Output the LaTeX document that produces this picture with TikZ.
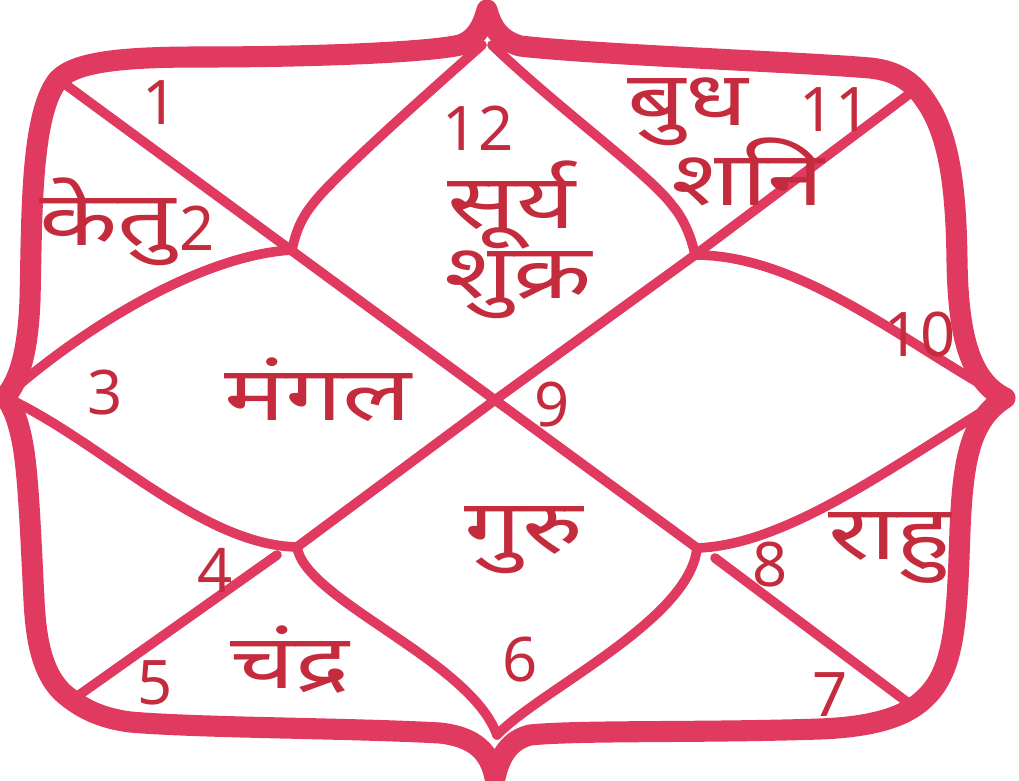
\documentclass[tikz,border=0pt]{standalone}
\usepackage{fontspec}
\setmainfont{Noto Sans}
\newfontfamily\deva[Script=Devanagari,FakeStretch=1.35]{Noto Sans}
\usepackage{tikz}
\definecolor{chartred}{RGB}{224,58,96}
\definecolor{inkred}{RGB}{196,44,62}
\tikzset{
  frame/.style={draw=chartred,line width=12pt,line join=round,line cap=round},
  house/.style={draw=chartred,line width=5.5pt,line join=round,line cap=round},
  num/.style={text=inkred,font=\fontsize{35}{37}\selectfont,inner sep=0pt},
  graha/.style={text=inkred,font=\deva\fontsize{43}{46}\selectfont,inner sep=0pt}
}
\begin{document}
\begin{tikzpicture}[x=0.02cm,y=-0.02cm]
        \useasboundingbox (0,0) rectangle (1019,781);
        \coordinate (T) at (487,10);
        \coordinate (L) at (5,397);
        \coordinate (R) at (1005,398);
        \coordinate (B) at (495,778);
        \coordinate (C) at (495,400);
        \coordinate (ul) at (292,250);
        \coordinate (ur) at (695,255);
        \coordinate (ll) at (297,547);
        \coordinate (lr) at (697,548);
        \coordinate (tl) at (58,79);
        \coordinate (tr) at (912,92);
        \coordinate (bl) at (72,700);
        \coordinate (br) at (915,708);
        \draw[frame] (L) .. controls (20,380) and (28,350) .. (30,300)
            .. controls (32,220) and (30,115) .. (58,80)
            .. controls (75,62) and (120,57) .. (200,57)
            .. controls (320,57) and (430,52) .. (460,45)
            .. controls (475,40) and (482,28) .. (T)
            .. controls (492,28) and (500,40) .. (520,46)
            .. controls (600,55) and (800,62) .. (870,68)
            .. controls (900,71) and (915,85) .. (925,100)
            .. controls (950,135) and (956,190) .. (957,260)
            .. controls (958,330) and (968,380) .. (R)
            .. controls (970,420) and (963,460) .. (960,530)
            .. controls (957,620) and (955,670) .. (925,698)
            .. controls (905,718) and (870,727) .. (820,729)
            .. controls (700,733) and (580,730) .. (530,735)
            .. controls (510,740) and (500,755) .. (B)
            .. controls (490,752) and (475,737) .. (440,733)
            .. controls (350,728) and (200,728) .. (130,722)
            .. controls (100,718) and (80,708) .. (62,692)
            .. controls (42,672) and (36,640) .. (34,600)
            .. controls (30,520) and (28,470) .. (22,440)
            .. controls (18,420) and (12,405) .. cycle;
        \draw[house] (482,45) .. controls (420,100) and (330,180) .. (312,205)
            .. controls (300,220) and (295,235) .. (ul)
            .. controls (200,255) and (80,330) .. (L);
        \draw[house] (L) .. controls (100,440) and (200,545) .. (ll)
            .. controls (305,600) and (470,660) .. (497,735);
        \draw[house] (497,735) .. controls (540,690) and (690,620) .. (lr)
            .. controls (790,545) and (900,460) .. (R);
        \draw[house] (R) .. controls (900,340) and (800,255) .. (ur)
            .. controls (692,240) and (685,220) .. (672,205)
            .. controls (650,175) and (560,110) .. (492,45);
        \draw[house] (tl) -- (C) -- (lr);
        \draw[house] (tr) -- (ur) -- (C) -- (ll);
        \draw[house] (277,555) -- (bl);
        \draw[house] (715,558) -- (br);
        \node[num] (h1) at (160,103) {1};
        \node[num] (h2) at (197,228) {2};
        \node[num] (h3) at (105,393) {3};
        \node[num] (h4) at (215,570) {4};
        \node[num] (h5) at (155,683) {5};
        \node[num] (h6) at (520,660) {6};
        \node[num] (h7) at (830,695) {7};
        \node[num] (h8) at (770,565) {8};
        \node[num] (h9) at (552,405) {9};
        \node[num] (h10) at (920,335) {10};
        \node[num] (h11) at (835,110) {11};
        \node[num] (h12) at (478,128) {12};
        \node[graha] (ketu) at (108,222) {केतु};
        \node[graha] (mangal) at (318,390) {मंगल};
        \node[graha] (chandra) at (290,660) {चंद्र};
        \node[graha] (guru) at (524,540) {गुरु};
        \node[graha] (rahu) at (890,548) {राहु};
        \node[graha] (budh) at (688,112) {बुध};
        \node[graha] (shani) at (748,172) {शनि};
        \node[graha] (surya) at (512,205) {सूर्य};
        \node[graha] (shukra) at (518,285) {शुक्र};
    \end{tikzpicture}
\end{document}
